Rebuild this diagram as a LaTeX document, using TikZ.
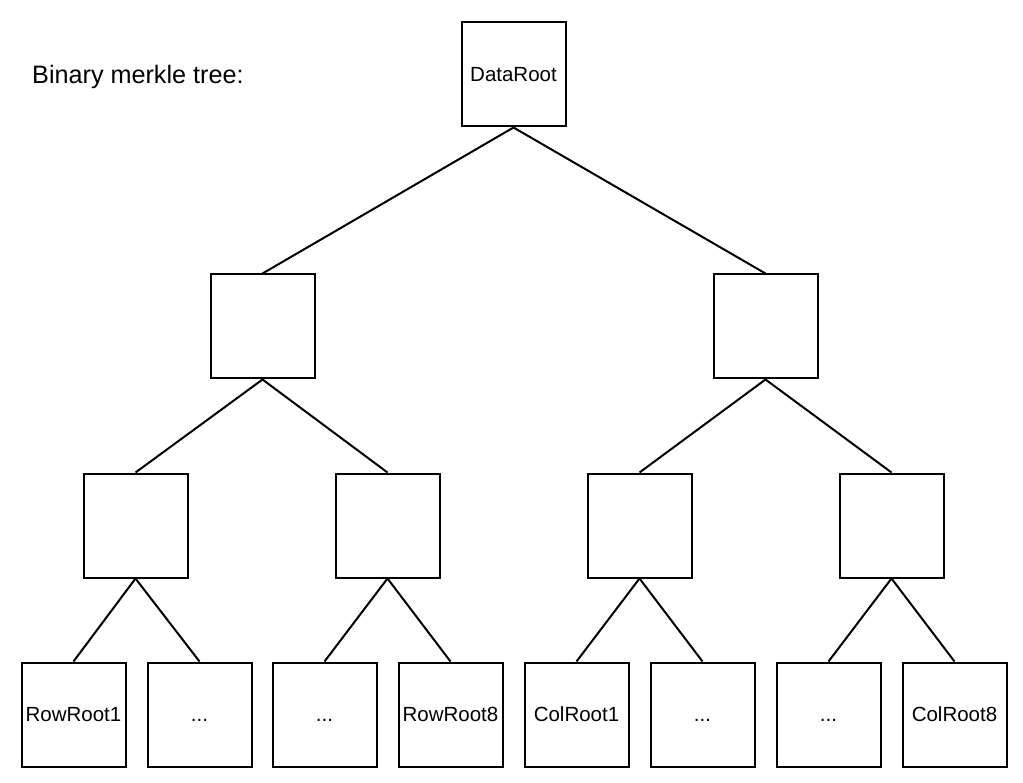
\documentclass[tikz,border=0pt]{standalone}
\usepackage{fontspec}
\setmainfont{Liberation Sans}
\begin{document}
\begin{tikzpicture}[x=1pt,y=-1pt,
  box/.style={draw,line width=2pt,minimum width=104pt,minimum height=104pt,inner sep=0pt,text height=14.7pt,text depth=0pt,font=\fontsize{20.5}{24}\selectfont},
  edge/.style={line width=2pt}]
\useasboundingbox (0,0) rectangle (1023,783);
\node[anchor=base west,font=\fontsize{25.2}{28}\selectfont,inner sep=0pt] (title) at (32,84) {Binary merkle tree:};
\node[box] (r) at (513.5,74.5) {DataRoot};
\node[box] (a) at (262.5,326.5) {};
\node[box] (b) at (765.5,326.5) {};
\node[box] (a1) at (135.5,525.5) {};
\node[box] (a2) at (387.5,525.5) {};
\node[box] (b1) at (639.5,525.5) {};
\node[box] (b2) at (891.5,525.5) {};
\node[box] (l1) at (73.5,714.5) {RowRoot1};
\node[box] (l2) at (199.5,714.5) {...};
\node[box] (l3) at (324.5,714.5) {...};
\node[box] (l4) at (450.5,714.5) {RowRoot8};
\node[box] (l5) at (576.5,714.5) {ColRoot1};
\node[box] (l6) at (702.5,714.5) {...};
\node[box] (l7) at (828.5,714.5) {...};
\node[box] (l8) at (954.5,714.5) {ColRoot8};
\foreach \p/\c in {r/a,r/b,a/a1,a/a2,b/b1,b/b2,a1/l1,a1/l2,a2/l3,a2/l4,b1/l5,b1/l6,b2/l7,b2/l8}
  \draw[edge] (\p.south) -- (\c.north);
\end{tikzpicture}
\end{document}
